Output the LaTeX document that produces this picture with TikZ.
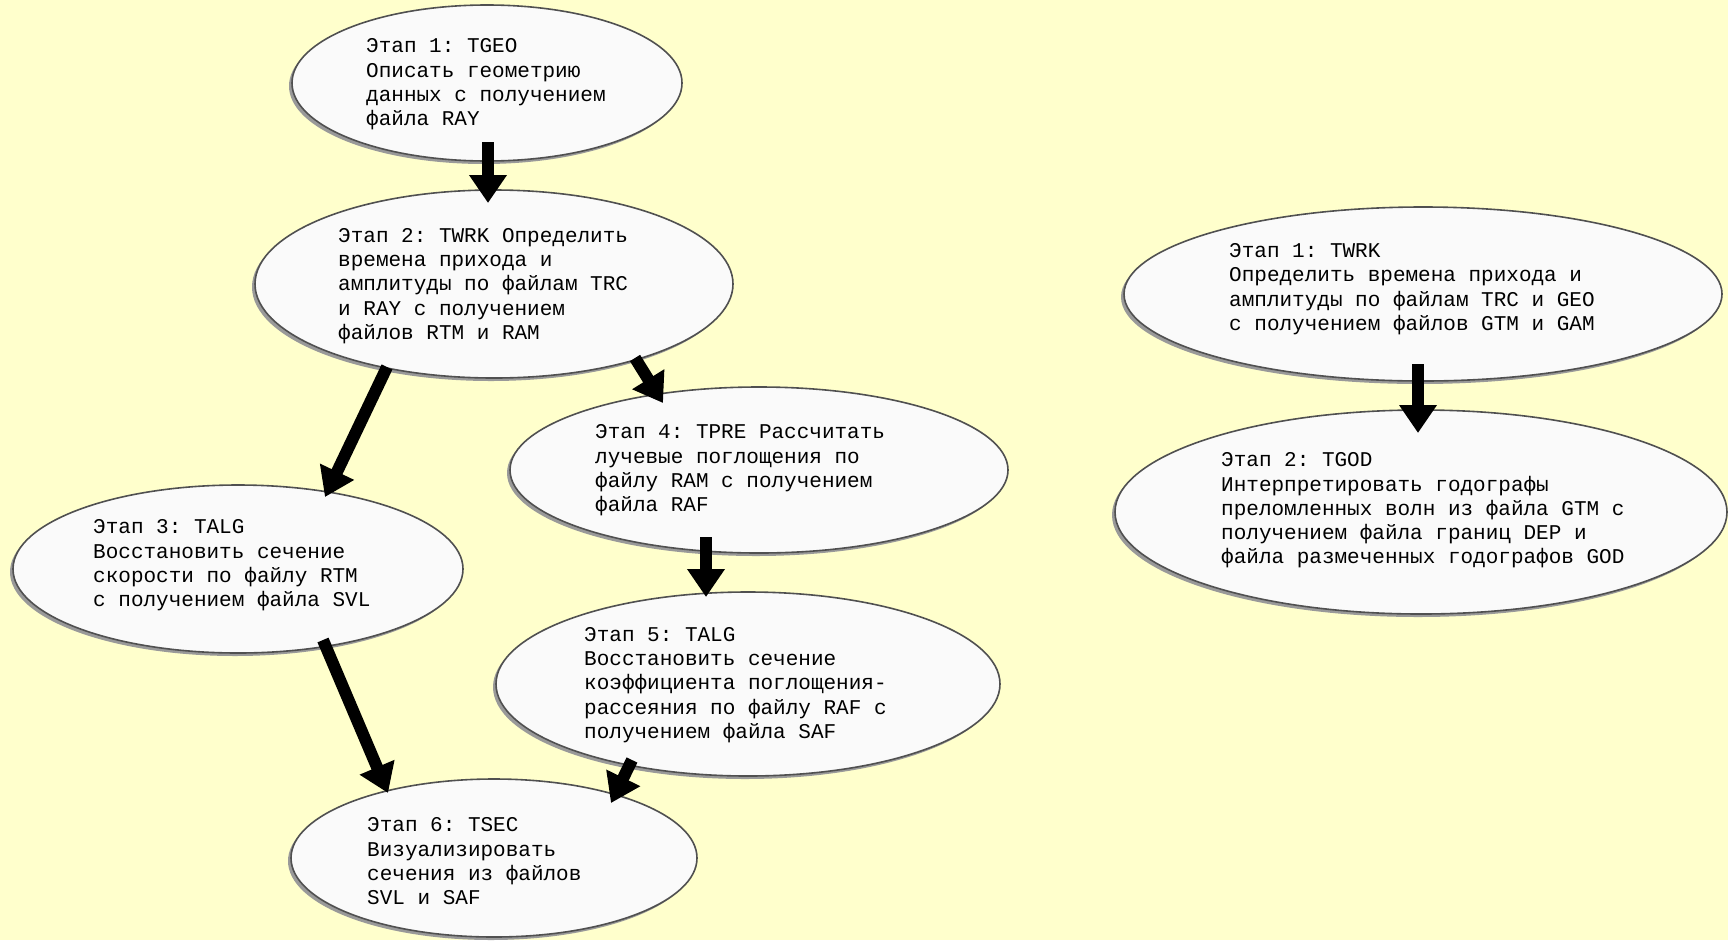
\documentclass[tikz,border=0pt]{standalone}
\usepackage{fontspec}
\setmonofont{Liberation Mono}
\usetikzlibrary{shapes.geometric,arrows.meta}
\definecolor{bg}{HTML}{FFFFCC}
\definecolor{edgec}{HTML}{505050}
\newcommand\stagebox[5]{%
  \node[shad,minimum width=#4pt,minimum height=#5pt] (#1s) at (#2-3,#3+3) {};
  \node[ell,minimum width=#4pt,minimum height=#5pt] (#1) at (#2,#3) {};}
\begin{document}
\begin{tikzpicture}[x=1pt,y=-1pt,
  ell/.style={ellipse,draw=edgec,line width=1.6pt,fill=white!98!black,inner sep=0pt},
  shad/.style={ellipse,fill=black!40,draw=none,inner sep=0pt},
  txt/.style={anchor=west,align=left,font=\ttfamily\fontsize{21}{24.3}\selectfont,inner sep=0pt},
  arr/.style={line width=12pt,-{Triangle[width=36pt,length=28pt]}}]
\fill[bg] (0,0) rectangle (1728,940);
\useasboundingbox (0,0) rectangle (1728,940);

\stagebox{e1}{487}{83}{390}{156}
\stagebox{e2}{494}{284}{478}{188}
\stagebox{e3}{238}{569}{450}{168}
\stagebox{e4}{759}{470}{498}{166}
\stagebox{e5}{748}{684}{504}{184}
\stagebox{e6}{494}{858}{406}{158}
\stagebox{r1}{1423}{294}{598}{174}
\stagebox{r2}{1421}{512}{612}{204}

\draw[arr] ([shift={(1,59)}]e1.center) -- ([shift={(-6,-81)}]e2.center);
\draw[arr] ([shift={(-107,83)}]e2.center) -- ([shift={(87,-72)}]e3.center);
\draw[arr] ([shift={(141,74)}]e2.center) -- ([shift={(-96,-67)}]e4.center);
\draw[arr] ([shift={(-53,67)}]e4.center) -- ([shift={(-42,-87)}]e5.center);
\draw[arr] ([shift={(85,71)}]e3.center) -- ([shift={(-106,-65)}]e6.center);
\draw[arr] ([shift={(-116,76)}]e5.center) -- ([shift={(117,-55)}]e6.center);
\draw[arr] ([shift={(-5,70)}]r1.center) -- ([shift={(-3,-79)}]r2.center);

\node[txt] (t1) at (366,84.5) {Этап 1: TGEO\\Описать геометрию\\данных с получением\\файла RAY};
\node[txt] (t2) at (338,286) {Этап 2: TWRK Определить\\времена прихода и\\амплитуды по файлам TRC\\и RAY с получением\\файлов RTM и RAM};
\node[txt] (t4) at (595,470.5) {Этап 4: TPRE Рассчитать\\лучевые поглощения по\\файлу RAM с получением\\файла RAF};
\node[txt] (t3) at (93,565.5) {Этап 3: TALG\\Восстановить сечение\\скорости по файлу RTM\\с получением файла SVL};
\node[txt] (t5) at (584,685) {Этап 5: TALG\\Восстановить сечение\\коэффициента поглощения-\\рассеяния по файлу RAF с\\получением файла SAF};
\node[txt] (t6) at (367,861.5) {Этап 6: TSEC\\Визуализировать\\сечения из файлов\\SVL и SAF};
\node[txt] (tr1) at (1229,289) {Этап 1: TWRK\\Определить времена прихода и\\амплитуды по файлам TRC и GEO\\с получением файлов GTM и GAM};
\node[txt] (tr2) at (1221,510.5) {Этап 2: TGOD\\Интерпретировать годографы\\преломленных волн из файла GTM с\\получением файла границ DEP и\\файла размеченных годографов GOD};
\end{tikzpicture}
\end{document}
